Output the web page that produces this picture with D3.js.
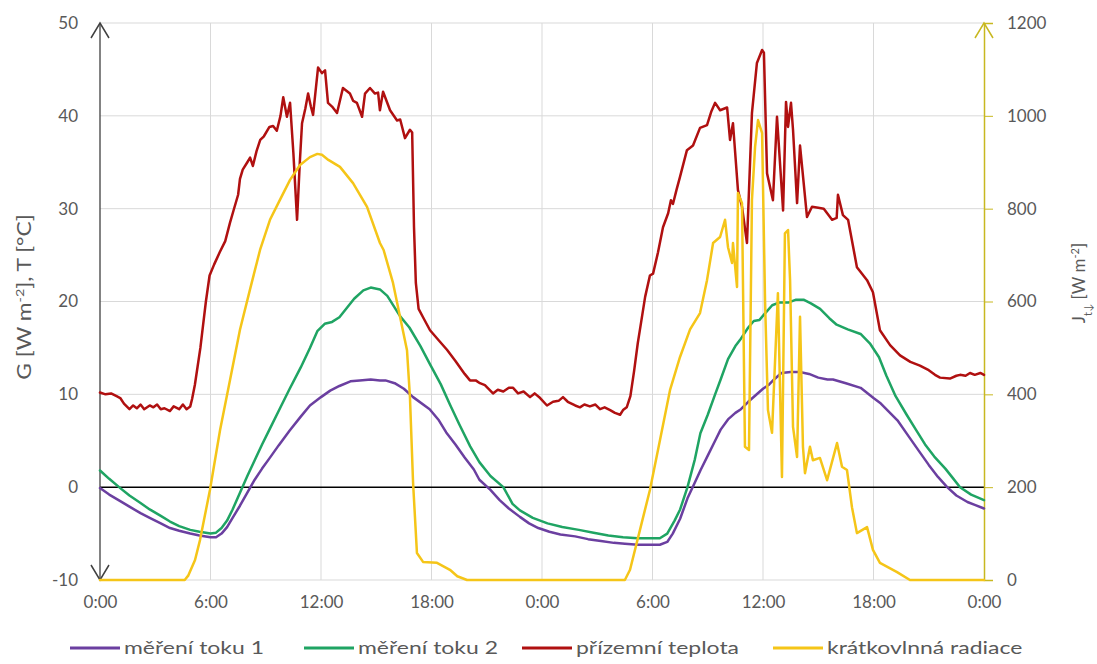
<!DOCTYPE html>
<html>
<head>
<meta charset="utf-8">
<script src="https://cdn.jsdelivr.net/npm/d3@7/dist/d3.min.js"></script>
<style>
  html, body { margin: 0; padding: 0; background: #fff; }
  svg { display: block; }
  text { font-family: Lato, "Open Sans", sans-serif; fill: #595959; }
</style>
</head>
<body>
<svg id="chart" width="1097" height="664"></svg>
<script>
// ---- data (time in hours from start, two days) ----
const xTicks = [0, 6, 12, 18, 24, 30, 36, 42, 48];
const xTickLabels = ["0:00", "6:00", "12:00", "18:00", "0:00", "6:00", "12:00", "18:00", "0:00"];
const yLeftTicks = [-10, 0, 10, 20, 30, 40, 50];
const yRightTicks = [0, 200, 400, 600, 800, 1000, 1200];

// měření toku 1 [W m-2]
const flux1Time = [0, 0.5, 1.1, 1.6, 2.2, 2.7, 3.3, 3.8, 4.3, 4.9, 5.4, 6.0, 6.3, 6.6, 6.9, 7.2, 7.6, 8.0, 8.4, 8.8, 9.2, 9.7, 10.3, 10.9, 11.4, 12.0, 12.5, 13.0, 13.6, 14.1, 14.7, 15.2, 15.5, 16.0, 16.5, 17.0, 17.9, 18.4, 18.8, 19.3, 19.8, 20.3, 20.6, 21.2, 21.7, 22.2, 22.8, 23.3, 23.8, 24.4, 25.0, 25.8, 26.5, 27.2, 27.9, 28.5, 29.2, 29.9, 30.4, 30.8, 31.1, 31.5, 31.9, 32.3, 32.6, 33.0, 33.4, 33.7, 34.1, 34.5, 34.8, 35.2, 35.6, 36.0, 36.3, 36.6, 37.0, 37.5, 38.0, 38.5, 39.0, 39.5, 39.8, 40.5, 41.3, 42.0, 42.4, 43.3, 43.9, 44.5, 45.0, 45.5, 46.0, 46.5, 47.1, 47.5, 48.0];
const flux1 = [-0.1, -0.8, -1.5, -2.1, -2.8, -3.3, -3.9, -4.4, -4.7, -5.0, -5.2, -5.4, -5.4, -5.0, -4.3, -3.3, -2.0, -0.6, 0.8, 2.0, 3.1, 4.5, 6.1, 7.6, 8.8, 9.7, 10.4, 10.9, 11.4, 11.5, 11.6, 11.5, 11.5, 11.2, 10.6, 9.7, 8.4, 7.2, 5.9, 4.6, 3.2, 1.9, 0.8, -0.3, -1.4, -2.3, -3.2, -3.9, -4.4, -4.8, -5.1, -5.3, -5.6, -5.8, -6.0, -6.1, -6.2, -6.2, -6.2, -5.9, -5.0, -3.4, -1.2, 0.5, 1.8, 3.4, 5.0, 6.2, 7.3, 8.0, 8.4, 9.2, 9.9, 10.6, 11.0, 11.6, 12.3, 12.4, 12.4, 12.2, 11.8, 11.6, 11.6, 11.2, 10.7, 9.6, 9.0, 7.2, 5.5, 3.8, 2.4, 1.1, 0.0, -0.9, -1.6, -1.9, -2.3];

// měření toku 2 [W m-2]
const flux2Time = [0, 0.5, 1.1, 1.6, 2.2, 2.7, 3.3, 3.8, 4.3, 4.9, 5.4, 6.0, 6.3, 6.6, 6.9, 7.2, 7.6, 8.0, 8.4, 8.8, 9.2, 9.7, 10.3, 10.9, 11.4, 11.8, 12.2, 12.6, 13.0, 13.4, 13.8, 14.3, 14.7, 15.2, 15.6, 16.3, 16.8, 17.4, 17.9, 18.5, 19.0, 19.5, 20.1, 20.6, 21.2, 21.9, 22.4, 22.8, 23.5, 24.3, 25.1, 26.0, 26.8, 27.6, 28.4, 29.2, 29.9, 30.4, 30.8, 31.2, 31.5, 31.9, 32.3, 32.6, 33.0, 33.4, 33.7, 34.1, 34.5, 34.8, 35.2, 35.5, 35.8, 36.1, 36.5, 36.9, 37.4, 37.8, 38.2, 38.6, 39.1, 39.6, 40.0, 40.6, 41.3, 41.8, 42.3, 42.7, 43.2, 43.8, 44.3, 44.8, 45.3, 45.9, 46.3, 46.7, 47.3, 48.0];
const flux2 = [1.8, 0.9, -0.1, -0.9, -1.7, -2.4, -3.1, -3.7, -4.2, -4.6, -4.8, -5.0, -4.9, -4.4, -3.6, -2.4, -0.6, 1.2, 2.9, 4.6, 6.2, 8.2, 10.6, 12.9, 15.0, 16.8, 17.6, 17.8, 18.3, 19.3, 20.3, 21.2, 21.5, 21.3, 20.6, 18.4, 17.2, 15.2, 13.3, 11.1, 8.9, 6.8, 4.4, 2.7, 1.2, 0.0, -1.8, -2.5, -3.3, -3.9, -4.3, -4.6, -4.9, -5.2, -5.4, -5.5, -5.5, -5.5, -5.0, -3.6, -2.4, 0.0, 3.0, 5.8, 7.8, 10.0, 11.6, 13.8, 15.2, 16.0, 17.2, 17.9, 18.0, 18.7, 19.6, 19.9, 19.9, 20.2, 20.2, 19.8, 19.2, 18.2, 17.5, 17.0, 16.5, 15.5, 14.0, 12.0, 9.8, 7.8, 6.2, 4.6, 3.3, 2.0, 1.0, 0.0, -0.8, -1.4];

// přízemní teplota [°C]
const tempTime = [0, 0.3, 0.6, 0.9, 1.1, 1.3, 1.6, 1.8, 2.0, 2.2, 2.4, 2.7, 2.9, 3.1, 3.3, 3.5, 3.8, 4.0, 4.3, 4.5, 4.7, 4.9, 5.0, 5.15, 5.3, 5.45, 5.6, 5.75, 5.95, 6.2, 6.5, 6.8, 7.06, 7.25, 7.5, 7.6, 7.75, 8.0, 8.15, 8.3, 8.5, 8.7, 8.9, 9.2, 9.4, 9.6, 9.8, 9.95, 10.15, 10.32, 10.5, 10.7, 10.85, 10.97, 11.15, 11.3, 11.45, 11.57, 11.84, 12.05, 12.22, 12.38, 12.6, 12.87, 13.19, 13.57, 13.75, 13.95, 14.23, 14.39, 14.66, 14.93, 15.1, 15.2, 15.37, 15.75, 16.13, 16.3, 16.56, 16.83, 16.95, 17.05, 17.15, 17.3, 17.54, 17.92, 18.4, 18.84, 19.3, 19.8, 20.09, 20.4, 20.63, 20.9, 21.1, 21.34, 21.6, 21.9, 22.2, 22.43, 22.7, 23.0, 23.35, 23.6, 23.9, 24.27, 24.6, 24.9, 25.14, 25.4, 25.8, 26.06, 26.3, 26.6, 26.9, 27.15, 27.4, 27.7, 27.96, 28.24, 28.4, 28.6, 28.8, 29.0, 29.2, 29.32, 29.6, 29.86, 30.03, 30.3, 30.57, 30.85, 31.0, 31.11, 31.3, 31.49, 31.87, 32.2, 32.58, 32.96, 33.2, 33.4, 33.67, 34.05, 34.21, 34.37, 34.64, 34.86, 35.13, 35.4, 35.67, 35.95, 36.05, 36.22, 36.54, 36.76, 37.09, 37.25, 37.36, 37.52, 37.63, 37.85, 38.01, 38.39, 38.66, 39.0, 39.3, 39.75, 40.0, 40.07, 40.34, 40.62, 41.1, 41.65, 41.97, 42.35, 42.9, 43.44, 44.0, 44.52, 45.0, 45.34, 45.61, 46.15, 46.5, 46.7, 47.0, 47.24, 47.5, 47.8, 48.0];
const temp = [10.2, 10.0, 10.1, 9.8, 9.6, 9.0, 8.4, 8.8, 8.5, 8.9, 8.4, 8.8, 8.6, 8.9, 8.4, 8.5, 8.2, 8.7, 8.4, 8.9, 8.4, 8.7, 9.5, 11.0, 13.0, 15.0, 17.5, 20.0, 22.8, 24.0, 25.3, 26.5, 28.5, 29.8, 31.5, 33.2, 34.2, 35.0, 35.5, 34.6, 36.2, 37.4, 37.8, 38.8, 38.9, 38.4, 40.0, 42.0, 39.9, 41.4, 36.0, 28.8, 35.0, 39.2, 40.8, 42.4, 41.0, 40.1, 45.2, 44.6, 44.9, 41.4, 41.0, 40.3, 43.0, 42.4, 41.6, 41.4, 39.9, 42.4, 43.0, 42.4, 42.5, 40.6, 42.6, 40.6, 39.5, 39.6, 37.6, 38.5, 38.2, 28.0, 22.0, 19.2, 18.3, 16.9, 15.8, 14.8, 13.6, 12.2, 11.5, 11.5, 11.2, 11.0, 10.6, 10.1, 10.5, 10.3, 10.7, 10.7, 10.1, 10.3, 9.7, 10.1, 9.6, 8.8, 9.2, 9.3, 9.7, 9.2, 8.8, 8.6, 8.9, 8.7, 8.9, 8.4, 8.6, 8.3, 8.0, 7.8, 8.3, 8.6, 9.8, 12.5, 15.5, 17.0, 20.5, 22.8, 23.0, 25.3, 28.0, 29.5, 30.9, 30.5, 32.0, 33.4, 36.3, 36.8, 38.7, 39.0, 40.5, 41.4, 40.6, 40.9, 37.4, 39.2, 32.0, 30.2, 26.3, 40.3, 45.7, 47.1, 46.8, 33.8, 30.9, 39.9, 29.8, 41.5, 38.8, 41.4, 38.5, 30.6, 36.8, 29.1, 30.2, 30.1, 30.0, 28.8, 29.0, 31.5, 29.3, 28.8, 23.7, 22.3, 21.0, 16.9, 15.3, 14.2, 13.5, 13.1, 12.6, 12.1, 11.8, 11.7, 12.0, 12.1, 12.0, 12.3, 12.1, 12.3, 12.1];

// krátkovlnná radiace [W m-2], right axis
const radTime = [0, 4.6, 4.8, 5.16, 5.43, 5.97, 6.52, 7.06, 7.6, 8.14, 8.69, 9.23, 9.77, 10.32, 10.86, 11.4, 11.8, 12.05, 12.4, 13.03, 13.74, 14.5, 15.2, 15.4, 15.91, 16.67, 16.83, 17.0, 17.21, 17.54, 18.3, 19.0, 19.4, 19.93, 28.5, 28.78, 29.32, 29.86, 30.41, 30.95, 31.49, 32.04, 32.58, 32.96, 33.29, 33.67, 33.94, 34.1, 34.32, 34.37, 34.59, 34.64, 34.86, 35.02, 35.24, 35.4, 35.57, 35.73, 35.95, 36.11, 36.27, 36.49, 36.81, 37.03, 37.19, 37.36, 37.47, 37.63, 37.85, 38.01, 38.17, 38.28, 38.55, 38.71, 39.09, 39.48, 40.02, 40.29, 40.56, 40.83, 41.1, 41.65, 41.97, 42.35, 43.28, 43.98, 48];
const rad = [0, 0, 10, 43, 86, 194, 323, 431, 539, 625, 711, 776, 819, 862, 894, 911, 918, 916, 905, 890, 855, 804, 726, 711, 640, 495, 394, 209, 58, 39, 37, 22, 8, 0, 0, 22, 108, 194, 302, 409, 480, 540, 575, 646, 726, 739, 776, 717, 683, 726, 631, 834, 812, 287, 280, 819, 933, 991, 963, 603, 366, 317, 618, 222, 747, 754, 646, 330, 265, 567, 287, 230, 287, 258, 263, 215, 295, 244, 237, 157, 101, 114, 65, 37, 17, 0, 0];

const seriesNames = ["měření toku 1", "měření toku 2", "přízemní teplota", "krátkovlnná radiace"];
const seriesColors = ["#6b3fa0", "#1fa463", "#b01010", "#f5c518"];

// ---- layout ----
const svg = d3.select("#chart");
const X0 = 100, X1 = 984, Y0 = 580, Y1 = 23;

const x = d3.scaleLinear().domain([0, 48]).range([X0, X1]);
const yL = d3.scaleLinear().domain([-10, 50]).range([Y0, Y1]);
const yR = d3.scaleLinear().domain([0, 1200]).range([Y0, Y1]);

// gridlines
const grid = svg.append("g");
grid.selectAll("line.h").data(yLeftTicks.filter(d => d !== 0)).join("line")
  .attr("x1", X0).attr("x2", X1)
  .attr("y1", d => yL(d)).attr("y2", d => yL(d))
  .attr("stroke", "#d9d9d9").attr("stroke-width", 1);
grid.selectAll("line.v").data(xTicks.filter(d => d > 0 && d < 48)).join("line")
  .attr("x1", d => x(d)).attr("x2", d => x(d))
  .attr("y1", Y1).attr("y2", Y0)
  .attr("stroke", "#d9d9d9").attr("stroke-width", 1);

// zero line
svg.append("line").attr("x1", X0).attr("x2", X1)
  .attr("y1", yL(0)).attr("y2", yL(0))
  .attr("stroke", "#000").attr("stroke-width", 1.5);

// left axis with arrows on both ends
const leftAxis = svg.append("g").attr("transform", `translate(${X0},0)`)
  .call(d3.axisLeft(yL).tickValues(yLeftTicks).tickSize(0).tickPadding(22).tickFormat(d => String(d)));
leftAxis.select(".domain").remove();
leftAxis.selectAll("text").style("font-size", "17px").attr("fill", "#595959");
svg.append("line").attr("x1", X0).attr("x2", X0).attr("y1", Y1).attr("y2", Y0)
  .attr("stroke", "#404040").attr("stroke-width", 1.3);
svg.append("path").attr("d", `M${X0 - 9},${Y1 + 15}L${X0},${Y1}L${X0 + 9},${Y1 + 15}`)
  .attr("fill", "none").attr("stroke", "#404040").attr("stroke-width", 1.5);
svg.append("path").attr("d", `M${X0 - 9},${Y0 - 15}L${X0},${Y0}L${X0 + 9},${Y0 - 15}`)
  .attr("fill", "none").attr("stroke", "#404040").attr("stroke-width", 1.5);

// right axis
const rightAxis = svg.append("g").attr("transform", `translate(${X1},0)`)
  .call(d3.axisRight(yR).tickValues(yRightTicks).tickSize(9).tickPadding(14).tickFormat(d3.format("d")));
rightAxis.select(".domain").attr("stroke", "#c8b820").attr("stroke-width", 1.5);
rightAxis.selectAll(".tick line").attr("stroke", "#c8b820");
rightAxis.selectAll("text").style("font-size", "17px").attr("fill", "#595959");
svg.append("path").attr("d", `M${X1 - 9},${Y1 + 15}L${X1},${Y1}L${X1 + 9},${Y1 + 15}`)
  .attr("fill", "none").attr("stroke", "#c8b820").attr("stroke-width", 1.5);

// bottom axis labels
const bottomAxis = svg.append("g").attr("transform", `translate(0,${Y0})`)
  .call(d3.axisBottom(x).tickValues(xTicks).tickFormat((d, i) => xTickLabels[i]).tickSize(0).tickPadding(16));
bottomAxis.select(".domain").remove();
bottomAxis.selectAll("text").style("font-size", "17px").attr("fill", "#595959");

// axis titles
const lt = svg.append("text").attr("transform", "translate(31,297) rotate(-90) scale(1.2,1)")
  .attr("text-anchor", "middle").style("font-size", "19px");
lt.append("tspan").text("G [W m");
lt.append("tspan").attr("baseline-shift", "super").style("font-size", "12px").text("-2");
lt.append("tspan").text("], T [°C]");

const rt = svg.append("text").attr("transform", "translate(1085,283) rotate(-90)")
  .attr("text-anchor", "middle").style("font-size", "17px");
rt.append("tspan").text("J");
rt.append("tspan").attr("baseline-shift", "sub").style("font-size", "11px").text("t↓");
rt.append("tspan").text(" [W m");
rt.append("tspan").attr("baseline-shift", "super").style("font-size", "11px").text("-2");
rt.append("tspan").text("]");

// series
const lineL = (t, v) => d3.line().x((d, i) => x(t[i])).y(d => yL(d))(v);
const lineR = (t, v) => d3.line().x((d, i) => x(t[i])).y(d => yR(d))(v);
const paths = [
  lineL(flux1Time, flux1),
  lineL(flux2Time, flux2),
  lineL(tempTime, temp),
  lineR(radTime, rad)
];
paths.forEach((p, i) => {
  svg.append("path").attr("d", p).attr("fill", "none")
    .attr("stroke", seriesColors[i]).attr("stroke-width", 2.5)
    .attr("stroke-linejoin", "round").attr("stroke-linecap", "round");
});

// legend
const legendX = [70, 304, 522, 773];
const legend = svg.append("g");
seriesNames.forEach((name, i) => {
  legend.append("line").attr("x1", legendX[i]).attr("x2", legendX[i] + 50)
    .attr("y1", 648).attr("y2", 648)
    .attr("stroke", seriesColors[i]).attr("stroke-width", 3);
  legend.append("text")
    .attr("transform", `translate(${legendX[i] + 54},654) scale(1.35,1)`)
    .style("font-size", "17px").text(name);
});
</script>
</body>
</html>
